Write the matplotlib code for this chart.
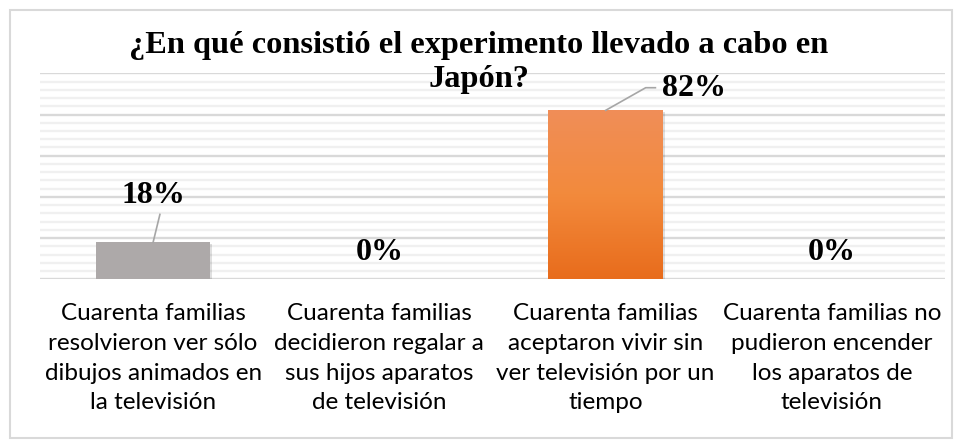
import matplotlib
matplotlib.use("Agg")
import matplotlib.pyplot as plt
import numpy as np
from matplotlib.patches import Rectangle
from matplotlib.ticker import MultipleLocator
from matplotlib.colors import LinearSegmentedColormap
import matplotlib.patheffects as pe

title_line1 = "¿En qué consistió el experimento llevado a cabo en"
title_line2 = "Japón?"
categories = [
    "Cuarenta familias\nresolvieron ver sólo\ndibujos animados en\nla televisión",
    "Cuarenta familias\ndecidieron regalar a\nsus hijos aparatos\nde televisión",
    "Cuarenta familias\naceptaron vivir sin\nver televisión por un\ntiempo",
    "Cuarenta familias no\npudieron encender\nlos aparatos de\ntelevisión",
]
values = [18, 0, 82, 0]
labels = ["18%", "0%", "82%", "0%"]

fig = plt.figure(figsize=(9.58, 4.43), dpi=100)
fig.patch.set_facecolor("white")
ax = fig.add_axes([40/958, 1-279.3/443, 905/958, 206/443])
ax.set_xlim(-0.5, 3.5)
ax.set_ylim(0, 100)

# gridlines
ax.yaxis.set_major_locator(MultipleLocator(20))
ax.yaxis.set_minor_locator(MultipleLocator(4))
ax.grid(which="minor", axis="y", color="#F0F0F0", linewidth=1.7, zorder=0)
ax.grid(which="major", axis="y", color="#D9D9D9", linewidth=1.7, zorder=0)
ax.set_axisbelow(True)
for s in ax.spines.values():
    s.set_visible(False)
ax.tick_params(axis="y", which="both", left=False, labelleft=False)

x = np.arange(len(categories))
bars = ax.bar(x, values, width=0.505, color=["#ADA9A9", "#ADA9A9", "#F07F35", "#ADA9A9"], zorder=3,
              path_effects=[pe.SimplePatchShadow(offset=(1.5, -1.5), shadow_rgbFace="#000000", alpha=0.12), pe.Normal()])

# gradient on orange bar
b = bars[2]
grad = np.linspace(0, 1, 256).reshape(-1, 1)
cmap = LinearSegmentedColormap.from_list("og", ["#E86C1C", "#F38A3C", "#F08E58"])
im = ax.imshow(grad, extent=[b.get_x(), b.get_x()+b.get_width(), 0, b.get_height()],
               origin="lower", aspect="auto", cmap=cmap, zorder=4)
im.set_clip_path(b)

# category labels
ax.set_xticks(x)
ax.set_xticklabels(categories, fontsize=17.5, family="Lato", linespacing=1.52, color="#000000")
ax.tick_params(axis="x", length=0, pad=17)

# data labels
lab_pos = [(0.0, 40.5), (1.0, 13.0), (2.39, 92.5), (3.0, 13.0)]
for (lx, ly), t in zip(lab_pos, labels):
    ax.text(lx, ly, t, ha="center", va="center", fontsize=23, fontweight="bold",
            family="Liberation Serif", zorder=6)
# leader lines
ax.plot([0.0, 0.03], [18, 31.5], color="#A6A6A6", lw=1.2, zorder=5)
ax.plot([2.0, 2.177, 2.22], [82, 93, 93], color="#A6A6A6", lw=1.2, zorder=5)

# title
fig.text(0.5, 1-45/443, title_line1, ha="center", va="center",
         fontsize=23.3, fontweight="bold", family="Liberation Serif")
fig.text(0.5, 1-80/443, title_line2, ha="center", va="center",
         fontsize=23.3, fontweight="bold", family="Liberation Serif")

# border
fig.add_artist(Rectangle((10/958, 5/443), 942/958, 428/443, transform=fig.transFigure,
                         fill=False, edgecolor="#D9D9D9", linewidth=1.5))

fig.savefig("out.png", dpi=100)
